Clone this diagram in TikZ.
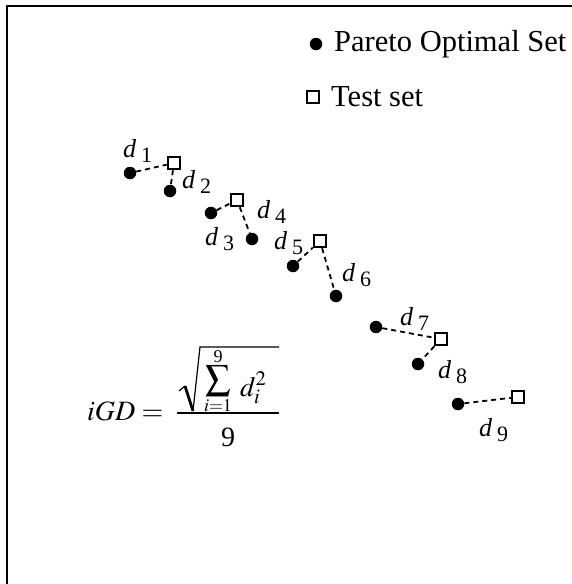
\documentclass[tikz,border=0pt]{standalone}
\usepackage{mathptmx}
\usepackage{fontspec}
\setmainfont{Liberation Serif}
\newcommand{\dlab}[1]{{\fontsize{26}{26}\selectfont\itshape d}\kern5pt\raisebox{-5pt}{\fontsize{22}{22}\selectfont #1}}
\tikzset{
  pareto/.style={circle, fill=black, inner sep=0pt, minimum size=12.5pt},
  testpt/.style={draw, line width=2pt, inner sep=0pt, minimum size=12.5pt, fill=white},
  conn/.style={line width=1.8pt, dash pattern=on 5pt off 4pt},
  dlabel/.style={anchor=base west, inner sep=0pt},
  legtext/.style={anchor=west, inner sep=0pt, font=\fontsize{30.5}{34}\selectfont},
  frameline/.style={line width=1.5pt},
  mpart/.style={inner sep=0pt},
  big/.style={font=\fontsize{28}{33}\selectfont},
  lim/.style={font=\fontsize{18}{20}\selectfont}
}
\begin{document}
\begin{tikzpicture}[x=1pt,y=-1pt]
\useasboundingbox (0,0) rectangle (572,584);
% frame (top and left only)
\coordinate (fbl) at (7,584);
\coordinate (ftl) at (7,6);
\coordinate (ftr) at (572,6);
\draw[frameline] (fbl) -- (ftl) -- (ftr);
% legend
\node[pareto] (legp) at (316,44) {};
\node[legtext] (legpt) at (334,44) {Pareto Optimal Set};
\node[testpt] (legs) at (313,97) {};
\node[legtext] (legst) at (331,97) {Test set};
% Pareto points
\node[pareto] (p1) at (130,173) {};
\node[pareto] (p2) at (170,191) {};
\node[pareto] (p3) at (211,213) {};
\node[pareto] (p4) at (252,239) {};
\node[pareto] (p5) at (293,266) {};
\node[pareto] (p6) at (336,296) {};
\node[pareto] (p7) at (376,327) {};
\node[pareto] (p8) at (418,364) {};
\node[pareto] (p9) at (458,404) {};
% test points
\node[testpt] (s1) at (174,163) {};
\node[testpt] (s2) at (237,200) {};
\node[testpt] (s3) at (320,241) {};
\node[testpt] (s4) at (441,339) {};
\node[testpt] (s5) at (518,397) {};
% connectors
\draw[conn] (p1) -- (s1);
\draw[conn] (s1) -- (p2);
\draw[conn] (p3) -- (s2);
\draw[conn] (s2) -- (p4);
\draw[conn] (p5) -- (s3);
\draw[conn] (s3) -- (p6);
\draw[conn] (p7) -- (s4);
\draw[conn] (s4) -- (p8);
\draw[conn] (p9) -- (s5);
% labels
\node[dlabel] (l1) at (123,157) {\dlab{1}};
\node[dlabel] (l2) at (182,188) {\dlab{2}};
\node[dlabel] (l3) at (205,245) {\dlab{3}};
\node[dlabel] (l4) at (257,218) {\dlab{4}};
\node[dlabel] (l5) at (274,249) {\dlab{5}};
\node[dlabel] (l6) at (342,281) {\dlab{6}};
\node[dlabel] (l7) at (400,325) {\dlab{7}};
\node[dlabel] (l8) at (438,378) {\dlab{8}};
\node[dlabel] (l9) at (479,436) {\dlab{9}};
% formula
\node[mpart, big, anchor=base west] (lhs) at (87,420) {$iGD=$};
\coordinate (fb1) at (177,413);
\coordinate (fb2) at (279,413);
\draw[line width=1.4pt] (fb1) -- (fb2);
\node[mpart, big] (den) at (228,437) {9};
\coordinate (r1) at (179,391);
\coordinate (r2) at (185,386);
\coordinate (r3) at (193,411);
\coordinate (r4) at (200,347);
\coordinate (r5) at (279,347);
\draw[line width=1.2pt, line join=miter] (r1) -- (r2);
\draw[line width=2.8pt] (r2) -- (r3);
\draw[line width=1.2pt, line join=miter] (r3) -- (r4) -- (r5);
\node[mpart, lim] (up) at (218,357) {9};
\node[mpart, font=\fontsize{25}{30}\selectfont, anchor=base] (sig) at (218,387) {$\displaystyle\sum$};
\node[mpart, lim] (low) at (218,406) {$i{=}1$};
\node[mpart, font=\fontsize{28}{32}\selectfont, anchor=base west] (dsq) at (240,396) {$d_i^{2}$};
\end{tikzpicture}
\end{document}
